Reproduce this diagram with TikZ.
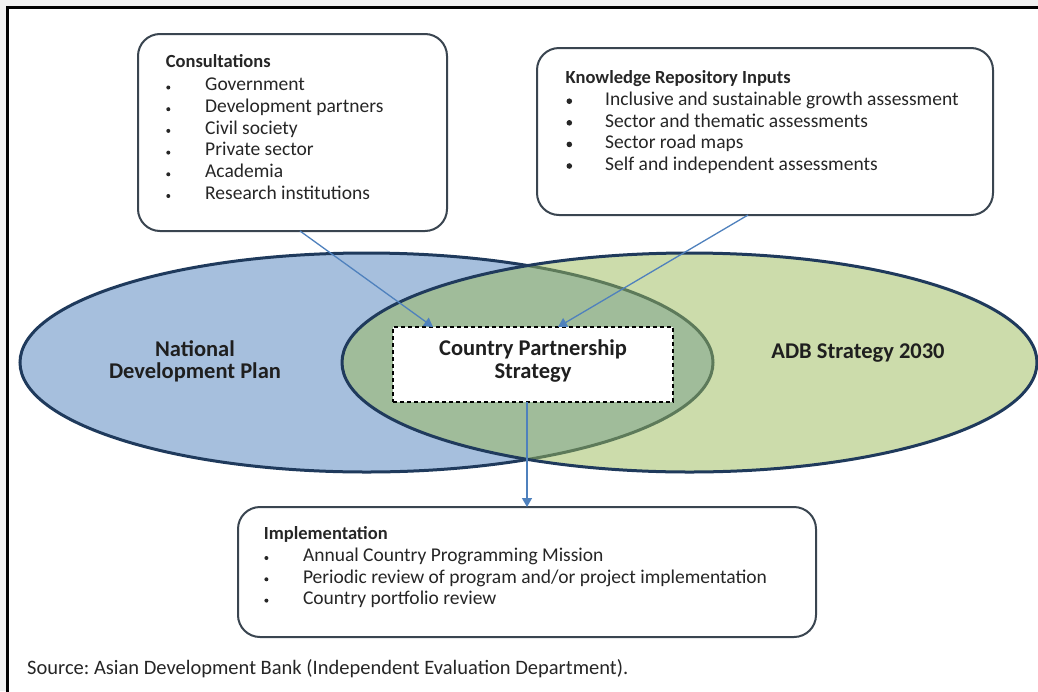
\documentclass[tikz,border=0pt]{standalone}
\usepackage{fontspec}
\setmainfont{Carlito}
\frenchspacing
\usetikzlibrary{arrows.meta,calc,shapes.geometric}
\definecolor{navy}{HTML}{1F3A5C}
\definecolor{blueacc}{HTML}{4F81BD}
\definecolor{oliveacc}{HTML}{9BBB59}
\definecolor{boxline}{HTML}{3A4550}
\definecolor{txt}{HTML}{262626}
\definecolor{pagegray}{HTML}{F0F0F0}

\tikzset{
  panel/.style={draw=boxline, line width=2pt, rounded corners=22pt, fill=white,
    inner sep=0pt, outer sep=0pt, anchor=north west},
  oval/.style={ellipse, inner sep=0pt, outer sep=0pt, line width=3pt, draw=navy},
  itemtext/.style={font=\fontsize{19.5}{22}\selectfont, text=txt, inner sep=0pt, anchor=base west},
  headtext/.style={itemtext, font=\fontsize{18.5}{22}\selectfont\bfseries},
  bigtext/.style={font=\fontsize{22.5}{25}\selectfont\bfseries, text=black!88, inner sep=0pt, anchor=base},
  bulletdot/.style={circle, fill=txt, inner sep=0pt, minimum size=#1},
  flow/.style={draw=blueacc, line width=1.3pt, -{Triangle[length=9pt,width=10pt]}},
}

\begin{document}
\begin{tikzpicture}[x=1pt,y=-1pt]
\useasboundingbox (0,0) rectangle (1038,691);
\clip (0,0) rectangle (1038,691);
% page background and frame
\fill[pagegray] (0,0) rectangle (1038,691);
\draw[line width=2.5pt, fill=white] (7.5,7.5) rectangle (1060,710);

% the two overlapping ellipses
\node[oval, fill=blueacc, fill opacity=0.5, draw opacity=1,
      minimum width=693pt, minimum height=219pt] (ndp) at (366.5,362.5) {};
\node[oval, fill=oliveacc, fill opacity=0.5, draw opacity=1,
      minimum width=695pt, minimum height=219pt] (adb) at (689.5,362.5) {};

\node[bigtext] (ndp-l1) at (195,356.7) {National};
\node[bigtext] (ndp-l2) at (195,378.5) {Development Plan};
\node[bigtext] (adb-l1) at (858,358) {ADB Strategy 2030};

% central strategy box
\node[draw=black, dashed, dash pattern=on 4pt off 3pt, line width=1.3pt, fill=white,
      inner sep=0pt, outer sep=0pt, anchor=north west,
      minimum width=280pt, minimum height=75pt] (cps) at (393,327) {};
\node[bigtext] (cps-l1) at (533,355) {Country Partnership};
\node[bigtext] (cps-l2) at (533,378.3) {Strategy};

% input and output boxes
\node[panel, minimum width=309pt, minimum height=197pt] (cons) at (138,34) {};
\node[panel, minimum width=456pt, minimum height=167pt] (know) at (537,48) {};
\node[panel, minimum width=578pt, minimum height=130pt] (impl) at (238,507) {};

% connectors
\draw[flow] ($(cons.south west)+(162,0)$) -- ($(cps.north west)+(40,0)$);
\draw[flow] ($(know.south west)+(211,0)$) -- ($(cps.north west)+(165,0)$);
\draw[flow] ($(cps.south west)+(134,0)$) -- ($(impl.north west)+(289,0)$);

% Consultations
\node[headtext] (cons-head) at (165.7,67.5) {Consultations};
\foreach \t [count=\i from 0] in {Government,Development partners,Civil society,Private sector,Academia,Research institutions}{
  \node[itemtext] (cons-item-\i) at (205,{90.7+21.7*\i}) {\t};
  \node[bulletdot=4pt] (cons-dot-\i) at (168.3,{87.5+21.7*\i}) {};
}

% Knowledge Repository Inputs
\node[headtext] (know-head) at (565.5,83.5) {Knowledge Repository Inputs};
\foreach \t [count=\i from 0] in {Inclusive and sustainable growth assessment,Sector and thematic assessments,Sector road maps,Self and independent assessments}{
  \node[itemtext] (know-item-\i) at (605,{105.7+21.6*\i}) {\t};
  \node[bulletdot=5.6pt] (know-dot-\i) at (569.3,{101.2+21.6*\i}) {};
}

% Implementation
\node[headtext] (impl-head) at (263.7,539.3) {Implementation};
\foreach \t [count=\i from 0] in {Annual Country Programming Mission,Periodic review of program and/or project implementation,Country portfolio review}{
  \node[itemtext] (impl-item-\i) at (302.8,{561.7+21.3*\i}) {\t};
  \node[bulletdot=4pt] (impl-dot-\i) at (266.4,{558+21.3*\i}) {};
}

% source line
\node[itemtext, font=\fontsize{20.5}{24}\selectfont] (source) at (27,674) {Source: Asian Development Bank (Independent Evaluation Department).};
\end{tikzpicture}
\end{document}
